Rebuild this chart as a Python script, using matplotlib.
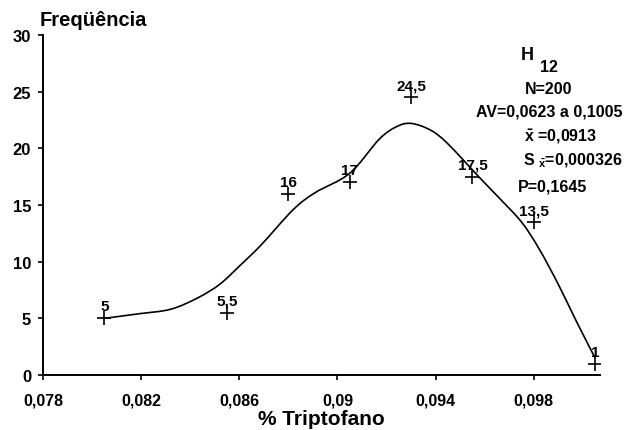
import matplotlib
matplotlib.use("Agg")
import matplotlib.pyplot as plt
from matplotlib.path import Path
from matplotlib.patches import PathPatch

plt.rcParams['font.family'] = ['Liberation Sans', 'DejaVu Sans']
plt.rcParams['font.weight'] = 'bold'
plt.rcParams['mathtext.fontset'] = 'custom'
plt.rcParams['mathtext.rm'] = 'Liberation Sans:bold'
plt.rcParams['mathtext.it'] = 'Liberation Sans:bold'
plt.rcParams['mathtext.bf'] = 'Liberation Sans:bold'

# Observed frequencies per tryptophan class
triptofano = [0.0805, 0.0855, 0.0880, 0.0905, 0.0930, 0.0955, 0.0980, 0.1005]
frequencia = [5, 5.5, 16, 17, 24.5, 17.5, 13.5, 1]
rotulos = ["5", "5,5", "16", "17", "24,5", "17,5", "13,5", "1"]

# Fitted curve (hand-traced knots)
curva_x = [0.0805, 0.0819, 0.0832, 0.0843, 0.0852, 0.0860, 0.0869,
           0.0882, 0.0891, 0.0905, 0.0917, 0.0924, 0.0930, 0.0938,
           0.0945, 0.0958, 0.0966, 0.0975, 0.0982, 0.0990, 0.0997,
           0.1005]
curva_y = [5.0, 5.4, 5.8, 6.8, 8.0, 9.6, 11.5,
           14.6, 16.1, 17.8, 20.8, 21.9, 22.2, 21.6,
           20.4, 17.4, 15.6, 13.5, 11.2, 8.0, 4.9,
           1.5]

xticks = [0.078, 0.082, 0.086, 0.090, 0.094, 0.098]
xticklabels = ["0,078", "0,082", "0,086", "0,09", "0,094", "0,098"]
yticks = [0, 5, 10, 15, 20, 25, 30]


def smooth_path(xs, ys):
    """Catmull-Rom knots turned into cubic Bezier segments."""
    pts = list(zip(xs, ys))
    verts = [pts[0]]
    codes = [Path.MOVETO]
    n = len(pts)
    for i in range(n - 1):
        p0 = pts[i - 1] if i > 0 else pts[i]
        p1 = pts[i]
        p2 = pts[i + 1]
        p3 = pts[i + 2] if i + 2 < n else pts[i + 1]
        c1 = (p1[0] + (p2[0] - p0[0]) / 6, p1[1] + (p2[1] - p0[1]) / 6)
        c2 = (p2[0] - (p3[0] - p1[0]) / 6, p2[1] - (p3[1] - p1[1]) / 6)
        verts += [c1, c2, p2]
        codes += [Path.CURVE4] * 3
    return Path(verts, codes)


fig = plt.figure(figsize=(6.29, 4.31), dpi=100)
ax = fig.add_axes([43 / 629, 55 / 431, 557 / 629, 340 / 431])

ax.add_patch(PathPatch(smooth_path(curva_x, curva_y), facecolor='none',
                       edgecolor='black', linewidth=1.2))
ax.plot(triptofano, frequencia, linestyle='none', marker='+', markersize=10,
        markeredgewidth=1.2, color='black')
for x, y, t in zip(triptofano, frequencia, rotulos):
    ax.annotate(t, (x, y), xytext=(0, 3.5), textcoords='offset points',
                ha='center', va='bottom', fontsize=11, fontweight='bold')

ax.set_xlim(0.078, 0.1007)
ax.set_ylim(0, 30)
ax.set_xticks(xticks)
ax.set_xticklabels(xticklabels)
ax.set_yticks(yticks)
ax.tick_params(axis='both', direction='out', length=3.5, width=1.2,
               labelsize=11.5, pad=5)
ax.tick_params(axis='x', pad=9)
ax.tick_params(axis='y', labelsize=12)
for lab in ax.get_xticklabels() + ax.get_yticklabels():
    lab.set_fontweight('bold')
for s in ('top', 'right'):
    ax.spines[s].set_visible(False)
for s in ('left', 'bottom'):
    ax.spines[s].set_linewidth(1.4)

ax.set_xlabel("% Triptofano", fontsize=15, fontweight='bold', labelpad=1)
fig.text(40 / 629, 1 - 21 / 431, "Freqüência", fontsize=14.5,
         fontweight='bold', ha='left', va='center')

# Statistics block
fig.text(521 / 629, 1 - 56 / 431, "H", fontsize=13, fontweight='bold',
         ha='left', va='center')
fig.text(540 / 629, 1 - 67 / 431, "12", fontsize=11.5, fontweight='bold',
         ha='left', va='center')
stats = [
    (549, 90, "N=200"),
    (549, 112, "AV=0,0623 a 0,1005"),
    (561, 137, r"$\bar{x}$ =0,0913"),
    (573, 161, r"S $_{\bar{x}}$=0,000326"),
    (553, 187, "P=0,1645"),
]
for px, py, t in stats:
    fig.text(px / 629, 1 - py / 431, t, fontsize=11.5, fontweight='bold',
             ha='center', va='center')

fig.savefig("out.png", dpi=100)
